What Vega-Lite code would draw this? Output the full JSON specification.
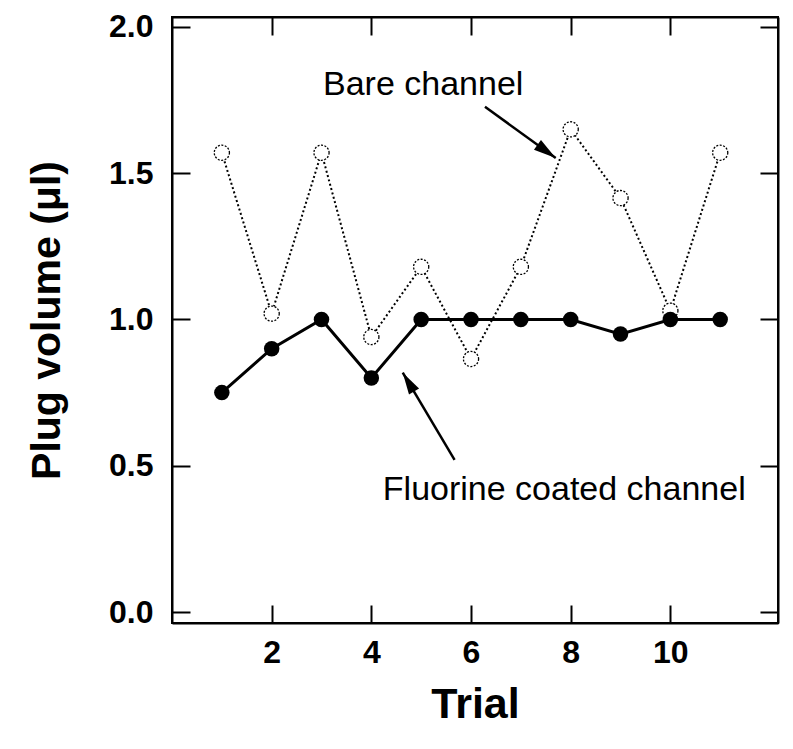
{
  "$schema": "https://vega.github.io/schema/vega-lite/v6.json",
  "autosize": "none",
  "width": 606,
  "height": 606,
  "padding": {"left": 172, "top": 17, "right": 15, "bottom": 126},
  "background": "white",
  "config": {
    "view": {"stroke": "black", "strokeWidth": 2},
    "axis": {
      "grid": false,
      "domainColor": "black",
      "domainWidth": 2,
      "tickColor": "black",
      "tickWidth": 2,
      "tickSize": -18,
      "labelColor": "black",
      "titleColor": "black",
      "labelFlush": false,
      "labelOverlap": false
    }
  },
  "datasets": {
    "bare": [
      {"trial": 1, "volume": 1.57},
      {"trial": 2, "volume": 1.02},
      {"trial": 3, "volume": 1.57},
      {"trial": 4, "volume": 0.94},
      {"trial": 5, "volume": 1.18},
      {"trial": 6, "volume": 0.865},
      {"trial": 7, "volume": 1.18},
      {"trial": 8, "volume": 1.65},
      {"trial": 9, "volume": 1.415},
      {"trial": 10, "volume": 1.03},
      {"trial": 11, "volume": 1.57}
    ],
    "fluor": [
      {"trial": 1, "volume": 0.75},
      {"trial": 2, "volume": 0.9},
      {"trial": 3, "volume": 1.0},
      {"trial": 4, "volume": 0.8},
      {"trial": 5, "volume": 1.0},
      {"trial": 6, "volume": 1.0},
      {"trial": 7, "volume": 1.0},
      {"trial": 8, "volume": 1.0},
      {"trial": 9, "volume": 0.95},
      {"trial": 10, "volume": 1.0},
      {"trial": 11, "volume": 1.0}
    ],
    "notes": [
      {"name": "bare", "x": 3.03, "y": 1.767, "label": "Bare channel"},
      {"name": "fluor", "x": 4.23, "y": 0.383, "label": "Fluorine coated channel"}
    ],
    "arrows": [
      {"name": "bare", "x1": 6.28, "y1": 1.727, "x2": 7.7, "y2": 1.552},
      {"name": "fluor", "x1": 5.67, "y1": 0.52, "x2": 4.63, "y2": 0.818}
    ]
  },
  "layer": [
    {
      "data": {"name": "bare"},
      "mark": {"type": "line", "color": "black", "strokeWidth": 2, "strokeDash": [2, 2.5]},
      "encoding": {
        "x": {
          "field": "trial", "type": "quantitative",
          "scale": {"domain": [0, 12.16], "nice": false, "zero": false},
          "axis": {
            "orient": "bottom",
            "values": [2, 4, 6, 8, 10],
            "title": "Trial",
            "labelFont": "Liberation Sans, Arial, sans-serif",
            "labelFontWeight": "bold",
            "labelFontSize": 32,
            "labelPadding": 32,
            "titleFont": "Liberation Sans, Arial, sans-serif",
            "titleFontWeight": "bold",
            "titleFontSize": 43,
            "titlePadding": 15
          }
        },
        "y": {
          "field": "volume", "type": "quantitative",
          "scale": {"domain": [-0.0376, 2.034], "nice": false, "zero": false},
          "axis": {
            "orient": "left",
            "values": [0, 0.5, 1, 1.5, 2],
            "format": ".1f",
            "title": "Plug volume (μl)",
            "labelFont": "Liberation Sans, Arial, sans-serif",
            "labelFontWeight": "bold",
            "labelFontSize": 32,
            "labelPadding": 37,
            "titleFont": "Liberation Sans, Arial, sans-serif",
            "titleFontWeight": "bold",
            "titleFontSize": 41,
            "titlePadding": 40
          }
        }
      }
    },
    {
      "data": {"name": "bare"},
      "mark": {"type": "point", "shape": "circle", "filled": false, "fill": "white", "fillOpacity": 1, "stroke": "black", "strokeWidth": 1.3, "strokeDash": [2, 1.5], "size": 230, "opacity": 1},
      "encoding": {
        "x": {
          "field": "trial", "type": "quantitative",
          "axis": {"orient": "top", "values": [2, 4, 6, 8, 10], "labels": false, "title": null}
        },
        "y": {
          "field": "volume", "type": "quantitative",
          "axis": {"orient": "right", "values": [0, 0.5, 1, 1.5, 2], "labels": false, "title": null}
        }
      }
    },
    {
      "data": {"name": "fluor"},
      "mark": {"type": "line", "color": "black", "strokeWidth": 3},
      "encoding": {
        "x": {"field": "trial", "type": "quantitative", "axis": null},
        "y": {"field": "volume", "type": "quantitative", "axis": null}
      }
    },
    {
      "data": {"name": "fluor"},
      "mark": {"type": "point", "shape": "circle", "filled": true, "color": "black", "size": 240, "opacity": 1},
      "encoding": {
        "x": {"field": "trial", "type": "quantitative", "axis": null},
        "y": {"field": "volume", "type": "quantitative", "axis": null}
      }
    },
    {
      "data": {"name": "arrows"},
      "mark": {"type": "rule", "color": "black", "strokeWidth": 2.5},
      "encoding": {
        "x": {"field": "x1", "type": "quantitative", "axis": null},
        "y": {"field": "y1", "type": "quantitative", "axis": null},
        "x2": {"field": "x2"},
        "y2": {"field": "y2"}
      }
    },
    {
      "data": {"name": "arrows"},
      "transform": [{"filter": "datum.name === 'bare'"}],
      "mark": {"type": "point", "shape": "M0,0L-0.4,1.5L0.4,1.5Z", "filled": true, "color": "black", "size": 900, "angle": 125.7, "opacity": 1},
      "encoding": {
        "x": {"field": "x2", "type": "quantitative", "axis": null},
        "y": {"field": "y2", "type": "quantitative", "axis": null}
      }
    },
    {
      "data": {"name": "arrows"},
      "transform": [{"filter": "datum.name === 'fluor'"}],
      "mark": {"type": "point", "shape": "M0,0L-0.4,1.5L0.4,1.5Z", "filled": true, "color": "black", "size": 860, "angle": 329.1, "opacity": 1},
      "encoding": {
        "x": {"field": "x2", "type": "quantitative", "axis": null},
        "y": {"field": "y2", "type": "quantitative", "axis": null}
      }
    },
    {
      "data": {"name": "notes"},
      "mark": {"type": "text", "align": "left", "baseline": "alphabetic", "font": "Liberation Sans, Arial, sans-serif", "fontSize": 34, "color": "black"},
      "encoding": {
        "x": {"field": "x", "type": "quantitative", "axis": null},
        "y": {"field": "y", "type": "quantitative", "axis": null},
        "text": {"field": "label"}
      }
    }
  ],
  "resolve": {"axis": {"x": "independent", "y": "independent"}}
}
